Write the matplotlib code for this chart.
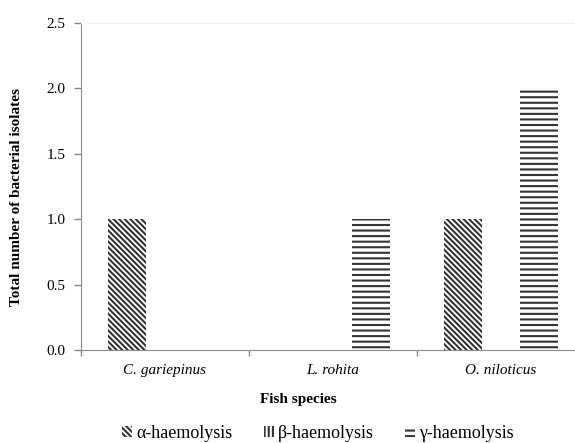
import matplotlib
matplotlib.use("Agg")
import matplotlib.pyplot as plt
from matplotlib.patches import Patch
import numpy as np

species = ["C. gariepinus", "L. rohita", "O. niloticus"]
series_names = ["α-haemolysis", "β-haemolysis", "γ-haemolysis"]
alpha_vals = [1, 0, 1]
beta_vals = [0, 0, 0]
gamma_vals = [0, 1, 2]
y_ticks = [0.0, 0.5, 1.0, 1.5, 2.0, 2.5]

plt.rcParams['font.family'] = ['Liberation Serif', 'DejaVu Serif']
plt.rcParams['hatch.linewidth'] = 1.5

W, H = 575, 443
fig = plt.figure(figsize=(W / 100, H / 100), dpi=100)
left, right, top, bottom = 81, 585, 23, 350
ax = fig.add_axes([left / W, 1 - bottom / H, (right - left) / W, (bottom - top) / H])

x = np.arange(len(species))
bw = 0.228
hatches = ['\\' * 6, '||||', '---']
hcol = '#333333'
for i, (vals, h) in enumerate(zip([alpha_vals, beta_vals, gamma_vals], hatches)):
    ax.bar(x + (i - 1) * bw, vals, width=bw, facecolor='white', edgecolor=hcol,
           hatch=h, linewidth=0)

ax.set_xlim(-0.5, 2.5)
ax.set_ylim(0, 2.5)
ax.set_yticks(y_ticks)
ax.set_yticklabels([f"{v:.1f}" for v in y_ticks], fontsize=11)
ax.set_xticks(x)
ax.set_xticklabels(species, fontsize=11, style='italic')
ax.set_xticks([-0.5, 0.5, 1.5, 2.5], minor=True)
ax.tick_params(axis='x', which='major', length=0, pad=10)
ax.tick_params(axis='x', which='minor', length=4, color='#888888', width=1)
ax.tick_params(axis='y', length=5, color='#888888', width=1, pad=6)

spine_col = '#8c8c8c'
ax.spines['left'].set_color(spine_col)
ax.spines['bottom'].set_color(spine_col)
ax.spines['right'].set_visible(False)
ax.spines['top'].set_color('#f2f2f2')

ax.set_ylabel("Total number of bacterial isolates", fontsize=11, fontweight='bold')
ax.yaxis.set_label_coords((23 - left) / (right - left), (bottom - 197) / (bottom - top))
ax.set_xlabel("Fish species", fontsize=11, fontweight='bold', va='center')
ax.xaxis.set_label_coords((298 - left) / (right - left), -(400 - bottom) / (bottom - top))

handles = [Patch(facecolor='white', edgecolor=hcol, hatch=h, linewidth=0) for h in hatches]
fig.legend(handles, series_names, loc='center', bbox_to_anchor=(318 / W, 1 - 433 / H),
           ncol=3, frameon=False, fontsize=13, handlelength=0.55, handleheight=0.55,
           handletextpad=0.25, columnspacing=1.7)

fig.savefig("out.png", dpi=100)
